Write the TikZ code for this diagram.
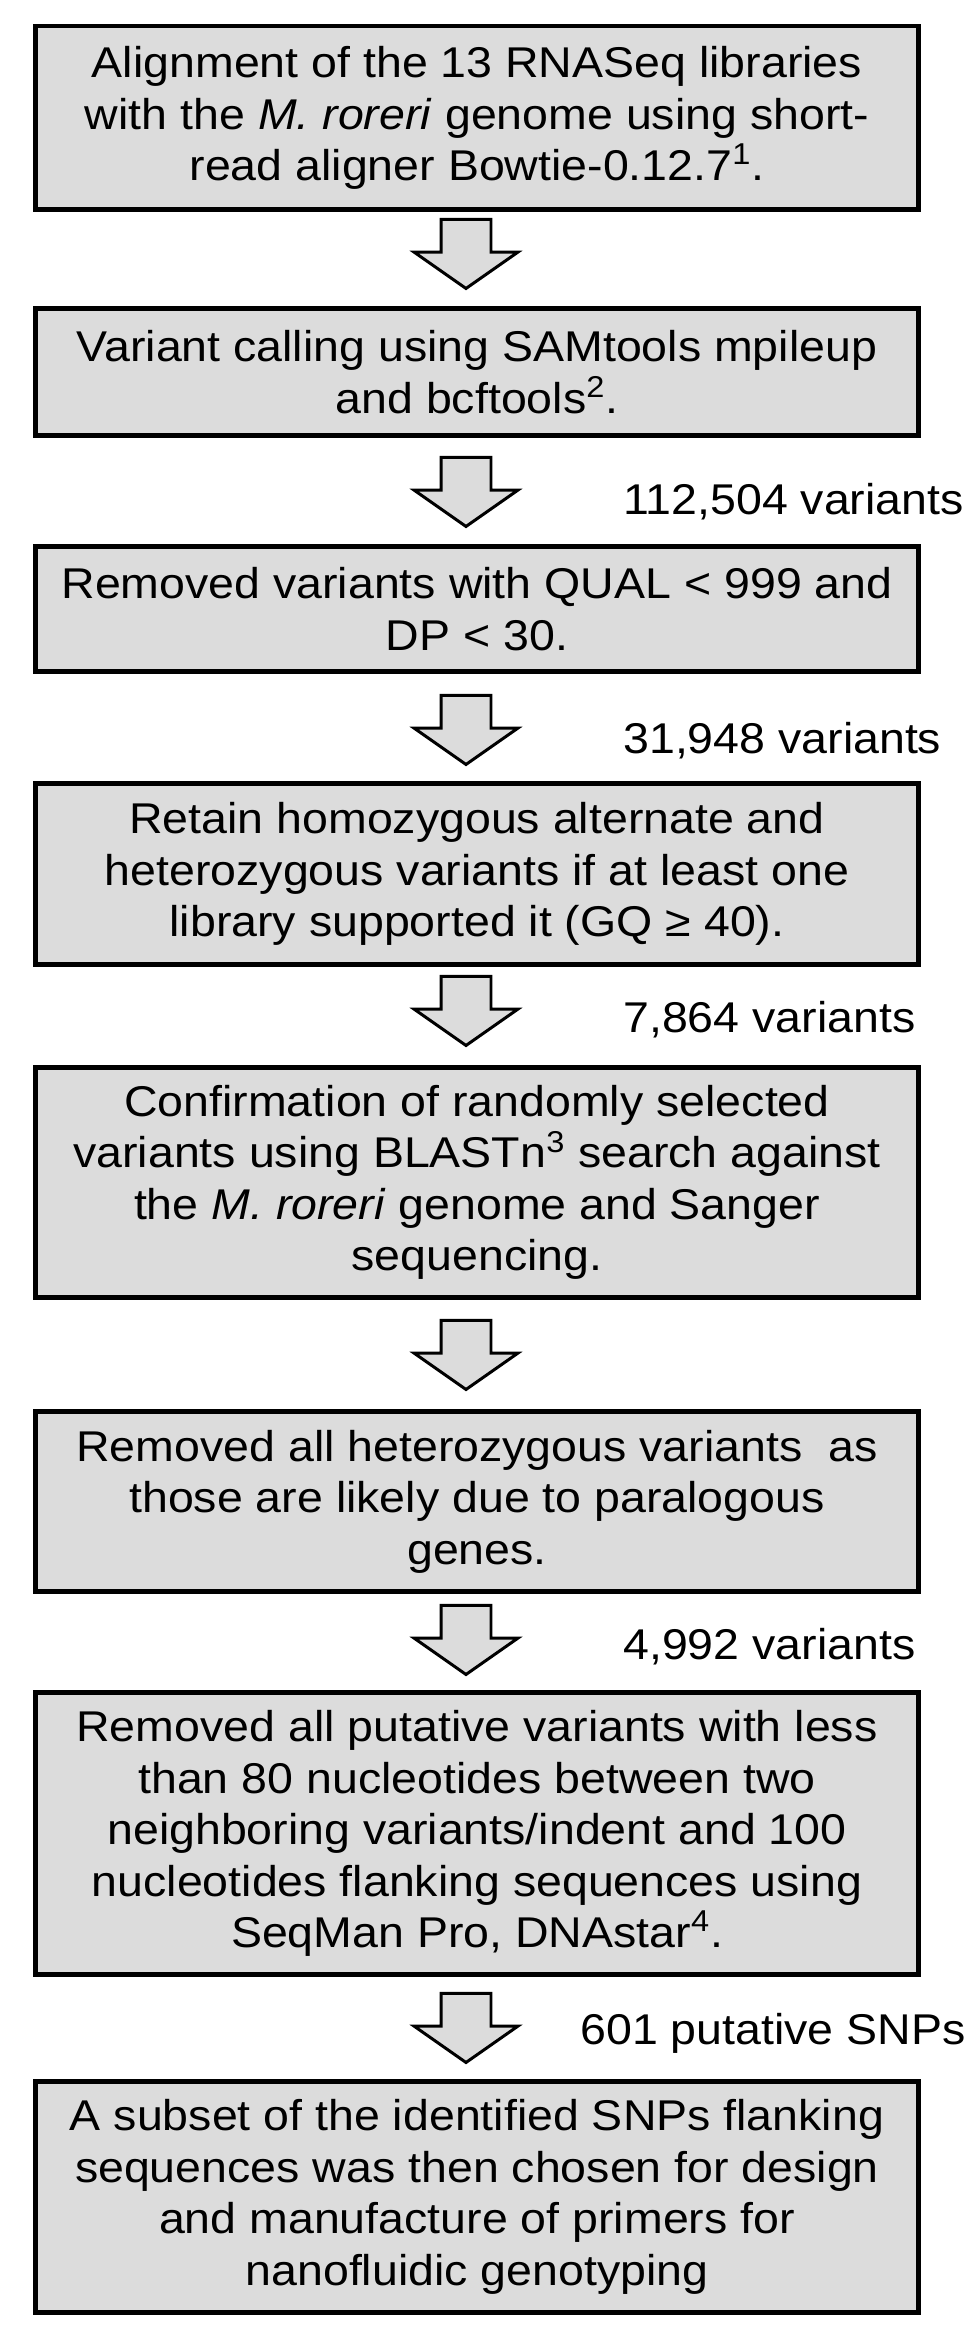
\documentclass[tikz,border=0pt]{standalone}
\usepackage{fontspec}
\setmainfont[FakeStretch=1.08]{Liberation Sans}
\usetikzlibrary{shapes.arrows}
\definecolor{boxgray}{RGB}{220,220,220}
\tikzset{
    stepbox/.style={rectangle, draw, fill=boxgray, line width=2.6pt, inner sep=0mm,
        align=center, minimum width=17.67cm, font=\fontsize{24.5pt}{29.3pt}\selectfont}
}
\tikzset{
    flowarrow/.style={single arrow, draw, fill=boxgray, line width=1.7pt, inner sep=0.47cm,
        shape border rotate=270, minimum height=1.38cm, minimum width=2.02cm,
        single arrow head extend=0.54cm, single arrow tip angle=110, anchor=tail}
}
\tikzset{countlabel/.style={anchor=base west, inner sep=0mm, font=\fontsize{24.5pt}{29.3pt}\selectfont}}

\begin{document}
\begin{tikzpicture}
    \useasboundingbox (0cm, 0cm) rectangle (19.4cm, 46.74cm);

    \node (st1) [stepbox, minimum height=3.67cm] at (9.54cm, 44.38cm)
        {Alignment of the 13 RNASeq libraries\\with the \textit{M. roreri} genome using short-\\read aligner Bowtie-0.12.7\textsuperscript{1}.};
    \node (st2) [stepbox, minimum height=2.55cm] at (9.54cm, 39.30cm)
        {Variant calling using SAMtools mpileup\\and bcftools\textsuperscript{2}.};
    \node (st3) [stepbox, minimum height=2.51cm] at (9.54cm, 34.56cm)
        {Removed variants with QUAL < 999 and\\DP < 30.};
    \node (st4) [stepbox, minimum height=3.63cm] at (9.54cm, 29.26cm)
        {Retain homozygous alternate and\\heterozygous variants if at least one\\library supported it (GQ ≥ 40).};
    \node (st5) [stepbox, minimum height=4.61cm] at (9.54cm, 23.09cm)
        {Confirmation of randomly selected\\variants using BLASTn\textsuperscript{3} search against\\the \textit{M. roreri} genome and Sanger\\sequencing.};
    \node (st6) [stepbox, minimum height=3.61cm] at (9.54cm, 16.71cm)
        {Removed all heterozygous variants~ as\\those are likely due to paralogous\\genes.};
    \node (st7) [stepbox, minimum height=5.65cm] at (9.54cm, 10.07cm)
        {Removed all putative variants with less\\than 80 nucleotides between two\\neighboring variants/indent and 100\\nucleotides flanking sequences using\\SeqMan Pro, DNAstar\textsuperscript{4}.};
    \node (st8) [stepbox, minimum height=4.63cm] at (9.54cm, 2.80cm)
        {A subset of the identified SNPs flanking\\sequences was then chosen for design\\and manufacture of primers for\\nanofluidic genotyping};

    % block arrows between the steps
    \node (ar1) [flowarrow] at (9.32cm, 42.38cm) {};
    \node (ar2) [flowarrow] at (9.32cm, 37.62cm) {};
    \node (ar3) [flowarrow] at (9.32cm, 32.86cm) {};
    \node (ar4) [flowarrow] at (9.32cm, 27.24cm) {};
    \node (ar5) [flowarrow] at (9.32cm, 20.36cm) {};
    \node (ar6) [flowarrow] at (9.32cm, 14.66cm) {};
    \node (ar7) [flowarrow] at (9.32cm, 6.90cm) {};

    % counts left after each filter
    \node (c2) [countlabel] at (12.46cm, 36.44cm) {112,504 variants};
    \node (c3) [countlabel] at (12.46cm, 31.66cm) {31,948 variants};
    \node (c4) [countlabel] at (12.46cm, 26.08cm) {7,864 variants};
    \node (c6) [countlabel] at (12.46cm, 13.54cm) {4,992 variants};
    \node (c7) [countlabel] at (11.60cm, 5.84cm) {601 putative SNPs};
\end{tikzpicture}
\end{document}
